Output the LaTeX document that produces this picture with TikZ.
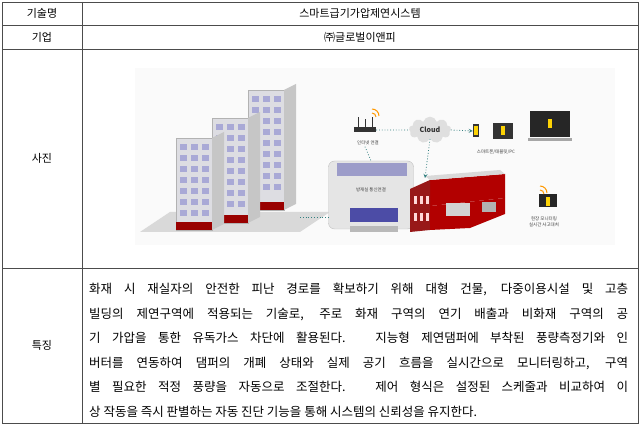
\documentclass[tikz,border=0pt]{standalone}
\usepackage{fontspec}
\usetikzlibrary{shapes.symbols}
\setmainfont{Noto Sans CJK KR}
\tikzset{
 grid/.style={draw=black!70,line width=0.6pt},
 lbl/.style={font=\fontsize{11}{13}\selectfont},
 tiny/.style={font=\fontsize{4.5}{5.5}\selectfont,text=black!75,align=center},
 bld/.style={fill=blue!8!gray!25,draw=gray!60,line width=0.3pt},
 win/.style={fill=blue!35!gray!50},
 dotl/.style={draw=teal!60!gray,dotted,line width=0.8pt},
}
\begin{document}
\begin{tikzpicture}[x=1pt,y=-1pt]
\useasboundingbox (0,0) rectangle (641,430);
% table
\draw[grid] (2,2) rectangle (638,423);
\draw[grid] (82,2) -- (82,423);
\foreach \y in {25,49,268} \draw[grid] (2,\y) -- (638,\y);
\node[lbl] (h1) at (42,13.5) {기술명};
\node[lbl] (v1) at (360,13.5) {스마트급기가압제연시스템};
\node[lbl] (h2) at (42,37) {기업};
\node[lbl] (v2) at (360,37) {㈜글로벌이앤피};
\node[lbl] (h3) at (42,158) {사진};
\node[lbl] (h4) at (42,345) {특징};
% photo background
\fill[gray!4] (135,68) rectangle (615,245);
% buildings
\fill[gray!30] (140,232) -- (300,232) -- (330,212) -- (170,212) -- cycle;
\foreach \bx/\by/\bh in {248/90/120,212/118/105,176/138/92}{
 \fill[bld] (\bx,\by) rectangle ++(36,\bh);
 \fill[gray!45] (\bx+36,\by) -- ++(12,-6) -- ++(0,\bh) -- ++(-12,6) -- cycle;
 \fill[red!60!black] (\bx,\by+\bh-8) rectangle ++(36,8);
 \foreach \r in {0,...,8}{
  \pgfmathsetmacro{\yy}{\by+6+\r*11}
  \pgfmathparse{\yy < \by+\bh-14 ? 1 : 0}
  \ifnum\pgfmathresult=1
   \foreach \c in {0,1,2}{\fill[win] (\bx+4+\c*11,\yy) rectangle ++(7,6);}
  \fi}
}
% router
\node[draw=none,fill=black!80,minimum width=22pt,minimum height=5pt,inner sep=0pt] (router) at (365,130) {};
\draw[black!80,line width=1pt] (358,128) -- (358,117) (372,128) -- (372,117) (365,128)--(365,119);
\draw[orange!80!yellow,line width=1pt] (372,113) arc (-90:0:4) (372,109) arc(-90:0:7);
\node[tiny] (inet) at (368,143) {인터넷 연결};
% cloud
\node[cloud,draw=none,fill=gray!25,cloud puffs=9,aspect=2.2,minimum width=42pt,minimum height=20pt,font=\fontsize{7}{8}\selectfont\bfseries,text=gray!40!black] (cloud) at (430,130) {Cloud};
% devices
\node[fill=black!80,minimum width=6pt,minimum height=13pt,inner sep=0pt] (phone) at (476,131) {};
\node[fill=black!80,minimum width=20pt,minimum height=16pt,inner sep=0pt] (tab) at (503,131) {};
\node[fill=black!85,minimum width=40pt,minimum height=26pt,inner sep=0pt] (pc) at (550,124) {};
\fill[gray!70] (528,138) rectangle (572,141);
\foreach \n in {phone,tab,pc}\fill[yellow!70!orange] ([xshift=-2pt,yshift=-4pt]\n.center) rectangle ([xshift=2pt,yshift=5pt]\n.center);
\node[tiny] (dev) at (496,152) {스마트폰/태블릿/PC};
\draw[dotl] (router.east) -- (cloud.west);
\draw[dotl,-stealth] (cloud.east) -- (phone.west);
% control room
\node[draw=gray!50,fill=gray!20,rounded corners=6pt,minimum width=85pt,minimum height=68pt] (room) at (371,195) {};
\fill[blue!30!gray!60] (337,163) rectangle (407,176);
\fill[blue!50!black!70] (350,208) rectangle (398,222);
\fill[gray!55] (350,226) rectangle (398,232);
\node[tiny] (roomt) at (371,190) {방재실 통신연결};
\draw[dotl] (router.south) ++(0,14) -- (room.north);
\coordinate (rl) at (300,217);
\draw[dotl] (rl) -- (room.west |- rl);
% factory
\fill[red!70!black] (430,180) -- (505,174) -- (505,198) -- (430,206) -- cycle;
\fill[red!55!black!90] (430,180) -- (410,189) -- (410,232) -- (430,230) -- cycle;
\fill[red!70!black] (430,206) -- (505,198) -- (505,214) -- (470,228) -- (430,230) -- cycle;
\fill[gray!30] (430,180) -- (505,174) -- (500,170) -- (425,176) -- cycle;
\fill[gray!35] (446,203) rectangle (470,216);
\fill[gray!60] (482,202) rectangle (496,212);
\foreach \wx in {414,420,426}{\fill[white!85!red] (\wx,196) rectangle ++(3,8); \fill[white!85!red] (\wx,213) rectangle ++(3,8);}
\coordinate (fac) at (425,178);
\draw[dotl,-stealth] (cloud.south) -- (fac);
\node[fill=black!85,minimum width=18pt,minimum height=13pt,inner sep=0pt] (mon) at (548,201) {};
\fill[yellow!70!orange] (546,197) rectangle (550,206);
\draw[orange!80!yellow,line width=1pt] (540,190) arc (-90:0:4) (540,186) arc(-90:0:7);
\node[tiny] (mont) at (544,222) {현장 모니터링\\실시간 사고대처};
% body text
\node[anchor=north west,inner sep=0pt,text width=539pt,align=justify,font=\fontsize{12.5}{24.5}\selectfont] (body) at (89,283) {\parindent0pt\parfillskip0pt
화재 시 재실자의 안전한 피난 경로를 확보하기 위해 대형 건물, 다중이용시설 및 고층\par
빌딩의 제연구역에 적용되는 기술로, 주로 화재 구역의 연기 배출과 비화재 구역의 공\par
기 가압을 통한 유독가스 차단에 활용된다. 지능형 제연댐퍼에 부착된 풍량측정기와 인\par
버터를 연동하여 댐퍼의 개폐 상태와 실제 공기 흐름을 실시간으로 모니터링하고, 구역\par
별 필요한 적정 풍량을 자동으로 조절한다. 제어 형식은 설정된 스케줄과 비교하여 이\par
\parfillskip0pt plus 1fil 상 작동을 즉시 판별하는 자동 진단 기능을 통해 시스템의 신뢰성을 유지한다.\par};
\end{tikzpicture}
\end{document}
